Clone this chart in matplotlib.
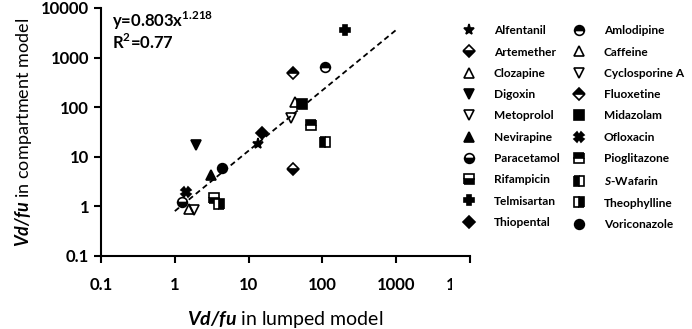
import matplotlib.pyplot as plt
import matplotlib.patches as mpatches
import numpy as np

plt.rcParams['font.family'] = ['Lato', 'DejaVu Sans']
plt.rcParams['font.weight'] = 'bold'
plt.rcParams['mathtext.fontset'] = 'custom'
plt.rcParams['mathtext.bfit'] = 'Lato:italic:bold'
plt.rcParams['mathtext.rm'] = 'Lato:bold'

# Drugs, values (lumped model, compartment model)
drugs = ['Alfentanil', 'Amlodipine', 'Artemether', 'Caffeine', 'Clozapine',
         'Cyclosporine A', 'Digoxin', 'Fluoxetine', 'Metoprolol', 'Midazolam',
         'Nevirapine', 'Ofloxacin', 'Paracetamol', 'Pioglitazone', 'Rifampicin',
         'S-Wafarin', 'Telmisartan', 'Theophylline', 'Thiopental', 'Voriconazole']
lumped = [13.4, 108, 40, 1.55, 42, 37, 1.96, 40, 1.8, 53,
          3.1, 1.44, 1.27, 69, 3.4, 110, 204, 4.0, 15, 4.3]
compartment = [18, 640, 5.7, 0.9, 125, 61, 17.7, 500, 0.83, 118,
               4.2, 1.94, 1.22, 43, 1.5, 20, 3650, 1.13, 30, 6.0]

# marker, fillstyle
styles = {
    'Alfentanil': ('*', 'full'),
    'Amlodipine': ('o', 'top'),
    'Artemether': ('D', 'bottom'),
    'Caffeine': ('^', 'none'),
    'Clozapine': ('^', 'none'),
    'Cyclosporine A': ('v', 'none'),
    'Digoxin': ('v', 'full'),
    'Fluoxetine': ('D', 'top'),
    'Metoprolol': ('v', 'none'),
    'Midazolam': ('s', 'full'),
    'Nevirapine': ('^', 'full'),
    'Ofloxacin': ('X', 'full'),
    'Paracetamol': ('o', 'bottom'),
    'Pioglitazone': ('s', 'top'),
    'Rifampicin': ('s', 'bottom'),
    'S-Wafarin': ('s', 'left'),
    'Telmisartan': ('P', 'full'),
    'Theophylline': ('s', 'right'),
    'Thiopental': ('D', 'full'),
    'Voriconazole': ('o', 'full'),
}

fit_a = 0.803
fit_b = 1.218

fig = plt.figure(figsize=(6.92, 3.29), dpi=100)
ax = fig.add_axes([101 / 692, 1 - 256 / 329, 369 / 692, 248 / 329])

handles = {}
for name, x, y in zip(drugs, lumped, compartment):
    m, fs = styles[name]
    ms = 6 if m in ('D',) else 7
    if m == '*':
        ms = 8
    h, = ax.plot([x], [y], linestyle='none', marker=m, markersize=ms,
                 fillstyle=fs, color='black', markerfacecoloralt='white',
                 markeredgewidth=1.2, zorder=3)
    lbl = r'$\mathbfit{S}$-Wafarin' if name == 'S-Wafarin' else name
    handles[name] = (h, lbl)

# fitted line
xf = np.logspace(0, 3, 50)
ax.plot(xf, fit_a * xf ** fit_b, linestyle=(0, (3, 2)), color='black', linewidth=1.3, zorder=2)

ax.set_xscale('log')
ax.set_yscale('log')
ax.set_xlim(0.1, 10000)
ax.set_ylim(0.1, 10000)
ticks = [0.1, 1, 10, 100, 1000, 10000]
tick_labels = ['0.1', '1', '10', '100', '1000', '10000']
ax.set_xticks(ticks)
ax.set_xticklabels(tick_labels)
ax.set_yticks(ticks)
ax.set_yticklabels(tick_labels)
ax.minorticks_off()
ax.tick_params(labelsize=12, width=1.5, length=5, direction='out')
ax.tick_params(axis='x', pad=10)
for lbl in ax.get_xticklabels() + ax.get_yticklabels():
    lbl.set_fontweight('bold')
for s in ['top', 'right']:
    ax.spines[s].set_visible(False)
for s in ['left', 'bottom']:
    ax.spines[s].set_linewidth(1.5)

ax.set_xlabel(r'$\mathbfit{Vd/fu}$ in lumped model', fontsize=14, labelpad=12)
ax.set_ylabel(r'$\mathbfit{Vd/fu}$ in compartment model', fontsize=13, labelpad=5)

ax.text(0.03, 0.995, r'y=0.803x$^{\mathrm{1.218}}$', transform=ax.transAxes,
        fontsize=12, fontweight='bold', va='top', ha='left')
ax.text(0.03, 0.90, r'R$^{\mathrm{2}}$=0.77', transform=ax.transAxes,
        fontsize=12, fontweight='bold', va='top', ha='left')

# legend: alphabetical, row-wise over two columns
left_col = drugs[0::2]
right_col = drugs[1::2]
order = left_col + right_col
leg = fig.legend([handles[n][0] for n in order], [handles[n][1] for n in order],
                 ncol=2, loc='upper left', bbox_to_anchor=(451 / 692, 1 - 17 / 329),
                 frameon=True, facecolor='white', edgecolor='none', framealpha=1,
                 fontsize=8.6, handlelength=1.6, handletextpad=1.3, columnspacing=0.8,
                 labelspacing=0.86, borderpad=0.2)
for t in leg.get_texts():
    t.set_fontweight('bold')

# the legend panel hides most of the last x tick label in the original
cover = mpatches.Rectangle((452 / 692, 0.08), 0.2, 0.1, transform=fig.transFigure,
                           facecolor='white', edgecolor='none', zorder=10)
fig.patches.append(cover)

fig.savefig('out.png', dpi=100)
